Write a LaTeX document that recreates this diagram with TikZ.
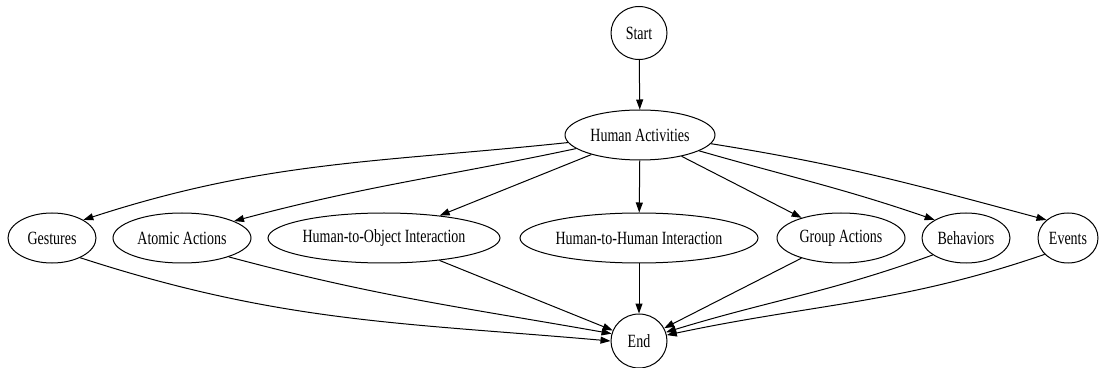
\documentclass[tikz,border=0pt]{standalone}
\usepackage{fontspec}
\setmainfont{Liberation Serif}[FakeStretch=0.75]
\usetikzlibrary{shapes,arrows.meta}

\begin{document}
\begin{tikzpicture}[x=1pt, y=1pt,
    act/.style={draw, ellipse, line width=1pt, inner sep=0pt, minimum height=50pt, font=\fontsize{18.67}{22}\selectfont},
    flow/.style={-{Triangle[length=10pt, width=7pt]}, line width=1pt}]
    \useasboundingbox (0,0) rectangle (1100,367);

    % Root
    \node[act, minimum width=56pt, minimum height=53pt] (start) at (639,334) {Start};
    \node[act, minimum width=150pt] (ha) at (640,232) {Human Activities};

    % Categories
    \node[act, minimum width=88pt] (gest) at (52,129) {Gestures};
    \node[act, minimum width=138pt] (atomic) at (182,129) {Atomic Actions};
    \node[act, minimum width=232pt] (h2o) at (384,129) {Human-to-Object Interaction};
    \node[act, minimum width=238pt] (h2h) at (639,129) {Human-to-Human Interaction};
    \node[act, minimum width=128pt] (group) at (841,129) {Group Actions};
    \node[act, minimum width=88pt] (behav) at (966,129) {Behaviors};
    \node[act, minimum width=60pt] (events) at (1068,129) {Events};

    % Sink
    \node[act, minimum width=56pt, minimum height=54pt] (endn) at (639,26) {End};

    % Top edges
    \draw[flow] (start) -- (ha);
    \draw[flow] (ha) to[out=186, in=18] (gest.30);
    \draw[flow] (ha) to[out=192, in=15] (atomic.18);
    \draw[flow] (ha) -- (h2o);
    \draw[flow] (ha) -- (h2h);
    \draw[flow] (ha) -- (group);
    \draw[flow] (ha.345) to[out=-16, in=161] (behav.150);
    \draw[flow] (ha.353) to[out=-9, in=165] (events.140);

    % Bottom edges
    \draw[flow] (gest.325) to[out=-18, in=175] (endn.180);
    \draw[flow] (atomic.338) to[out=-15, in=170] (endn.165);
    \draw[flow] (h2o) -- (endn);
    \draw[flow] (h2h) -- (endn);
    \draw[flow] (group) -- (endn);
    \draw[flow] (behav.207) to[out=200, in=17] (endn.18);
    \draw[flow] (events.215) to[out=199, in=12] (endn.12);
\end{tikzpicture}
\end{document}
